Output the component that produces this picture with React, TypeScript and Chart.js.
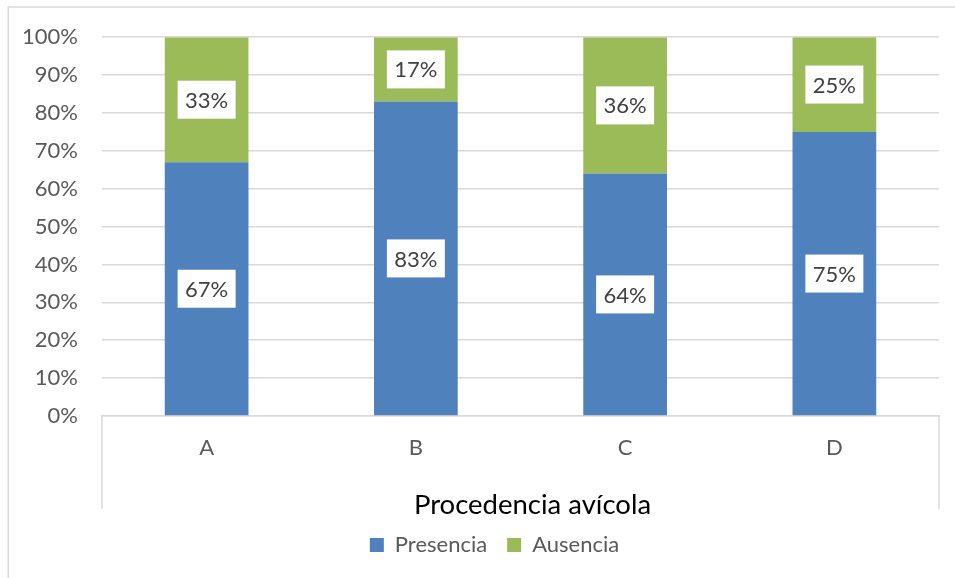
import React, { useEffect, useRef } from "react";
import { Chart, registerables } from "chart.js";

Chart.register(...registerables);

// Data
const categories = ["A", "B", "C", "D"];
const presencia = [67, 83, 64, 75];
const ausencia = [33, 17, 36, 25];
const seriesNames = ["Presencia", "Ausencia"];
const axisTitle = "Procedencia avícola";
const yMin = 0;
const yMax = 100;
const yStep = 10;

const BLUE = "#4f81bd";
const GREEN = "#9bbb59";
const GRID = "#d9d9d9";
const TEXT = "#595959";
const FONT = "Lato";

// White boxes with the percentage centred in each bar segment
const segmentLabels = {
  id: "segmentLabels",
  afterDatasetsDraw(chart: any) {
    const ctx = chart.ctx;
    ctx.save();
    ctx.font = `22px ${FONT}`;
    ctx.textAlign = "center";
    ctx.textBaseline = "middle";
    chart.data.datasets.forEach((ds: any, i: number) => {
      const meta = chart.getDatasetMeta(i);
      meta.data.forEach((el: any, j: number) => {
        const { x, y, base } = el.getProps(["x", "y", "base"], true);
        const cy = (y + base) / 2;
        ctx.fillStyle = "#ffffff";
        ctx.fillRect(x - 29, cy - 19, 58, 38);
        ctx.fillStyle = "#404040";
        ctx.fillText(`${ds.data[j]}%`, x, cy + 1);
      });
    });
    ctx.restore();
  },
};

// Outer frame, category box and axis title
const frame = {
  id: "frame",
  afterLayout(chart: any) {
    // legend sits slightly right of the canvas centre
    const lg = chart.legend;
    if (lg) {
      lg.left += 25;
      lg.right += 25;
    }
  },
  beforeDraw(chart: any) {
    const ctx = chart.ctx;
    ctx.save();
    ctx.fillStyle = "#ffffff";
    ctx.fillRect(0, 0, chart.width, chart.height);
    ctx.strokeStyle = GRID;
    ctx.lineWidth = 1.5;
    ctx.beginPath();
    ctx.moveTo(8.25, chart.height + 5);
    ctx.lineTo(8.25, 7);
    ctx.lineTo(chart.width + 5, 7);
    ctx.stroke();
    ctx.restore();
  },
  afterDraw(chart: any) {
    const ctx = chart.ctx;
    const xs = chart.scales.x;
    const area = chart.chartArea;
    ctx.save();
    ctx.strokeStyle = GRID;
    ctx.lineWidth = 1.5;
    ctx.beginPath();
    ctx.moveTo(area.left, area.bottom);
    ctx.lineTo(area.left, area.bottom + 93);
    ctx.moveTo(area.right, area.bottom);
    ctx.lineTo(area.right, area.bottom + 93);
    ctx.stroke();
    ctx.font = `27.5px ${FONT}`;
    ctx.fillStyle = "#000000";
    ctx.textAlign = "center";
    ctx.textBaseline = "middle";
    ctx.fillText(axisTitle, (xs.left + xs.right) / 2 + 12, area.bottom + 89);
    ctx.restore();
  },
};

export default function App() {
  const ref = useRef<HTMLCanvasElement | null>(null);

  useEffect(() => {
    if (!ref.current) return;
    const chart = new Chart(ref.current, {
      type: "bar",
      data: {
        labels: categories,
        datasets: [
          {
            label: seriesNames[0],
            data: presencia,
            backgroundColor: BLUE,
            barPercentage: 0.4,
            categoryPercentage: 1,
          },
          {
            label: seriesNames[1],
            data: ausencia,
            backgroundColor: GREEN,
            barPercentage: 0.4,
            categoryPercentage: 1,
          },
        ],
      },
      options: {
        responsive: false,
        animation: false,
        layout: { padding: { left: 0, right: 16, top: 36, bottom: 12 } },
        scales: {
          x: {
            stacked: true,
            grid: { display: false, drawTicks: false },
            border: { display: true, color: GRID, width: 1.5 },
            ticks: { color: TEXT, font: { family: FONT, size: 22 }, padding: 19 },
            afterFit: (s: any) => {
              s.height = 98;
            },
          },
          y: {
            stacked: true,
            min: yMin,
            max: yMax,
            grid: { color: GRID, lineWidth: 1.5, drawTicks: false },
            border: { display: false },
            ticks: {
              stepSize: yStep,
              color: TEXT,
              padding: 24,
              font: { family: FONT, size: 22 },
              callback: (v: any) => `${v}%`,
            },
            afterFit: (s: any) => {
              s.width = 102;
            },
          },
        },
        plugins: {
          legend: {
            position: "bottom",
            labels: {
              boxWidth: 14,
              boxHeight: 14,
              padding: 20,
              color: TEXT,
              font: { family: FONT, size: 22 },
            },
          },
          tooltip: { enabled: false },
        },
      },
      plugins: [frame, segmentLabels],
    });
    return () => chart.destroy();
  }, []);

  return (
    <div style={{ position: "absolute", left: 0, top: 0, width: 955, height: 578, overflow: "hidden" }}>
      <canvas ref={ref} width={955} height={578} style={{ display: "block" }} />
    </div>
  );
}
